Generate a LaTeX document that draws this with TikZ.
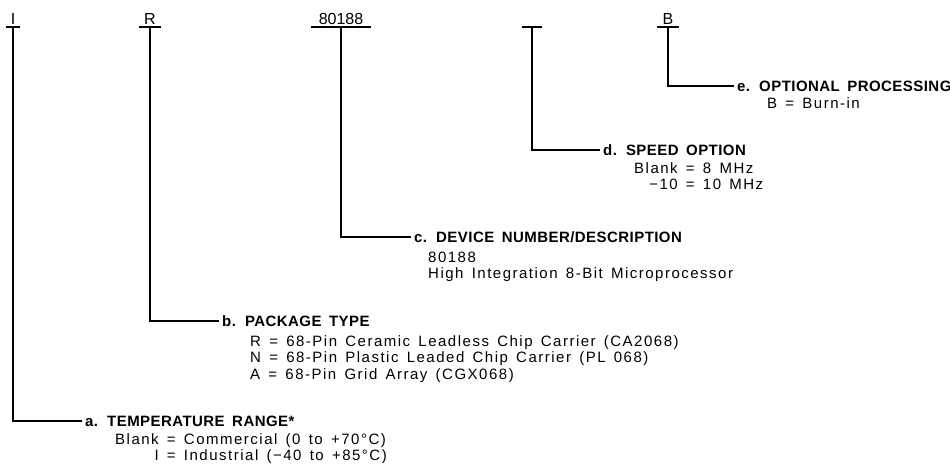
\documentclass[tikz,border=0pt]{standalone}
\usepackage{fontspec}
\setmainfont{Liberation Sans}
\newfontfamily\subfam[LetterSpace=10]{Liberation Sans}
\newfontfamily\headfam[LetterSpace=3]{Liberation Sans}
\newcommand{\myheadfont}{\headfam\fontsize{15}{15}\selectfont\bfseries\spaceskip=0.5em plus 0.1em\relax}
\newcommand{\mysubfont}{\subfam\fontsize{15}{16.5}\selectfont\spaceskip=0.55em plus 0.1em\relax}
\begin{document}
\begin{tikzpicture}[x=1pt,y=-1pt,
  rule/.style={line width=1.2pt},
  code/.style={font=\fontsize{16}{16}\selectfont, inner xsep=0pt, inner ysep=2pt, anchor=south},
  head/.style={font=\myheadfont, inner xsep=3pt, inner ysep=0pt, anchor=west},
  sub/.style={font=\mysubfont, inner sep=0pt, anchor=base west}]
\useasboundingbox (0,0) rectangle (950,471);
% code letters
\node[code, minimum width=14] (cI) at (13,27) {I};
\node[code, minimum width=22] (cR) at (150,27) {R};
\node[code, minimum width=60] (cN) at (341,27) {80188};
\node[code, minimum width=19] (cS) at (532,27) {};
\node[code, minimum width=21] (cB) at (668,27) {B};
\foreach \n in {cI,cR,cN,cS,cB} \draw[rule] (\n.south west) -- (\n.south east);
% headings
\node[head] (a) at (82,421) {a. TEMPERATURE RANGE*};
\node[head] (b) at (219,321) {b. PACKAGE TYPE};
\node[head] (c) at (411,237) {c. DEVICE NUMBER/DESCRIPTION};
\node[head] (d) at (600,150) {d. SPEED OPTION};
\node[head] (e) at (734,86) {e. OPTIONAL PROCESSING};
% sub texts
\node[sub] (asub) at (115,444) {\begin{tabular}[t]{@{}r@{ = }l@{}}Blank & Commercial (0 to +70°C)\\ I & Industrial (−40 to +85°C)\end{tabular}};
\node[sub] (bsub) at (250,346) {\begin{tabular}[t]{@{}l@{}}R = 68-Pin Ceramic Leadless Chip Carrier (CA2068)\\ N = 68-Pin Plastic Leaded Chip Carrier (PL 068)\\ A = 68-Pin Grid Array (CGX068)\end{tabular}};
\node[sub] (csub) at (428,262) {\begin{tabular}[t]{@{}l@{}}80188\\ High Integration 8-Bit Microprocessor\end{tabular}};
\node[sub] (dsub) at (634,173) {\begin{tabular}[t]{@{}r@{ = }l@{}}Blank & 8 MHz\\ −10 & 10 MHz\end{tabular}};
\node[sub] (esub) at (767,108) {B = Burn-in};
% connectors
\draw[rule] (cI.south) |- (a.west);
\draw[rule] (cR.south) |- (b.west);
\draw[rule] (cN.south) |- (c.west);
\draw[rule] (cS.south) |- (d.west);
\draw[rule] (cB.south) |- (e.west);
\end{tikzpicture}
\end{document}
